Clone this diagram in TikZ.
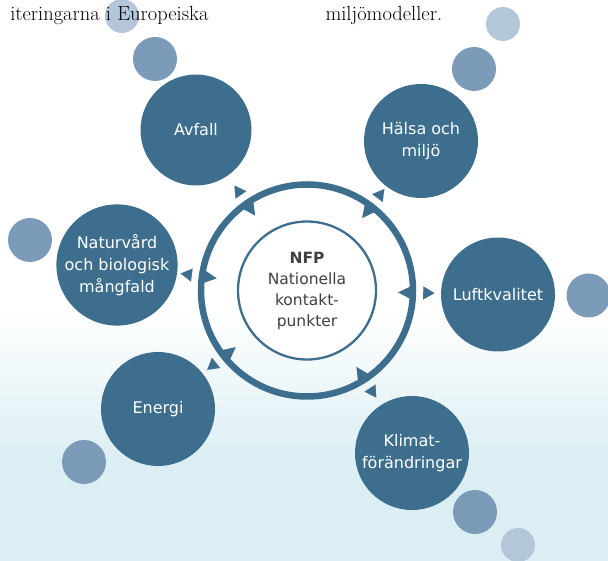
\documentclass[tikz,border=0pt]{standalone}
\usepackage{fontspec}
\usetikzlibrary{calc,arrows.meta}
\newfontfamily\diagfont{DejaVu Sans}
\definecolor{nodeblue}{RGB}{61,110,142}
\definecolor{bubbleblue}{RGB}{123,155,184}
\definecolor{paleblue}{RGB}{180,198,218}
\definecolor{bgblue}{RGB}{219,238,243}
\definecolor{txtgray}{RGB}{64,64,64}
\tikzset{
  topic/.style={circle, fill=nodeblue, minimum size=114pt, inner sep=0pt, align=center,
    text=white, font=\diagfont\fontsize{16}{22}\selectfont},
  bubble/.style={circle, fill=bubbleblue, minimum size=44pt, inner sep=0pt},
  tinybubble/.style={circle, fill=paleblue, minimum size=34pt, inner sep=0pt},
  pointer/.style={draw=nodeblue, line width=0.01pt, -{Triangle[length=11.25pt,width=13pt]}},
}

\begin{document}
\begin{tikzpicture}[x=1pt,y=1pt]
	\useasboundingbox (0,0) rectangle (608,561);
	\fill[bgblue] (0,0) rectangle (608,100);
	\shade[top color=white, bottom color=bgblue] (0,99.5) rectangle (608,251);
%bubbles
	\node[bubble] (b1) at (155,502) {};
	\node[tinybubble] (b2) at (122,545) {};
	\node[bubble] (b3) at (474,492) {};
	\node[tinybubble] (b4) at (503,537) {};
	\node[bubble] (b5) at (30,321) {};
	\node[bubble] (b6) at (588.5,265.5) {};
	\node[bubble] (b7) at (84,99) {};
	\node[bubble] (b8) at (475,49) {};
	\node[tinybubble] (b9) at (518,16) {};
%topics
	\node[topic, minimum size=111pt] (avfall) at (196,431) {Avfall};
	\node[topic] (halsa) at (421,420) {Hälsa och\\miljö};
	\node[topic] (natur) at (117,296) {Naturvård\\och biologisk\\mångfald};
	\node[topic] (luft) at (498,266.5) {Luftkvalitet};
	\node[topic] (energi) at (158,152) {Energi};
	\node[topic] (klimat) at (412,108) {Klimat-\\förändringar};
%centre
	\coordinate (ctr) at (307,270.5);
	\draw[nodeblue, line width=6.5pt] (ctr) circle (106);
	\node[circle, draw=nodeblue, line width=2.3pt, fill=white, minimum size=138pt, inner sep=0pt,
	  align=center, text=txtgray, font=\diagfont\fontsize{15.5}{21}\selectfont] (nfp) at (ctr)
	  {\textbf{NFP}\\Nationella\\kontakt-\\punkter};
	\foreach \t in {avfall,halsa,natur,luft,energi,klimat}{
	  \draw[pointer] ($(ctr)!116.25pt!(\t)$) -- ($(ctr)!127.5pt!(\t)$);
	  \fill[nodeblue] ($(ctr)!106pt!(\t)!7.5pt!90:(ctr)$) -- ($(ctr)!91pt!(\t)$)
	    -- ($(ctr)!106pt!(\t)!7.5pt!-90:(ctr)$) -- cycle;
	}
%text
	\node[anchor=base east, font=\fontsize{20.5}{24}\selectfont] (txtl) at (212,540) {iteringarna i Europeiska};
	\node[anchor=base west, font=\fontsize{20.5}{24}\selectfont] (txtr) at (322,540) {miljömodeller.};
\end{tikzpicture}
\end{document}
